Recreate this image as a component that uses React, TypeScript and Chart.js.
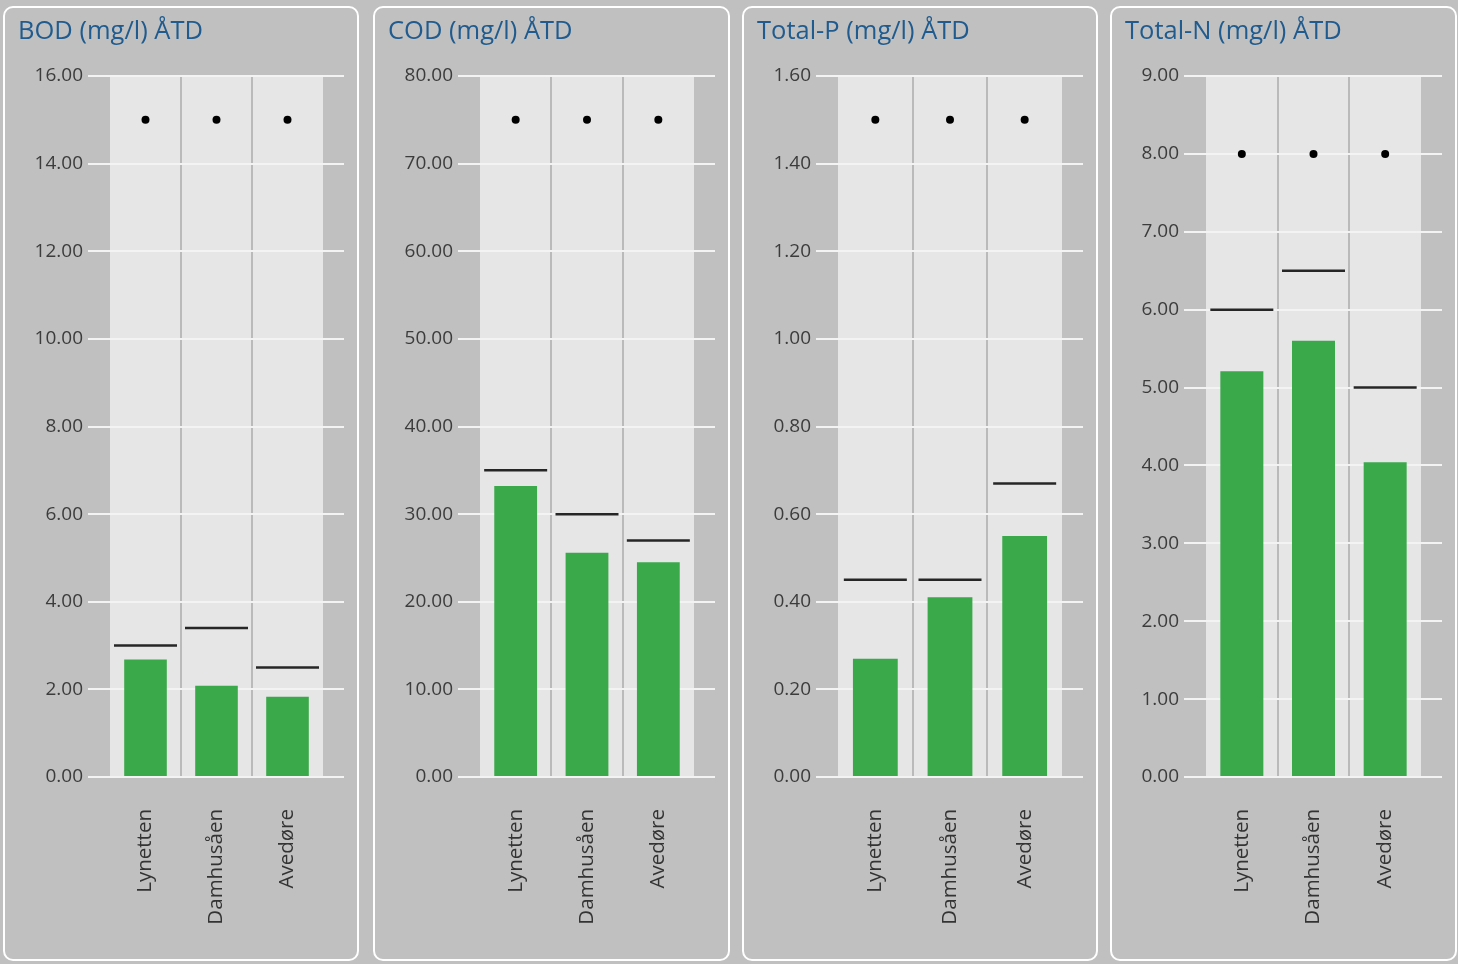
import React, { useEffect, useRef } from 'react';
import { Chart, registerables } from 'chart.js';
Chart.register(...registerables);

const categories = ['Lynetten', 'Damhusåen', 'Avedøre'];
const titles = ['BOD (mg/l) ÅTD', 'COD (mg/l) ÅTD', 'Total-P (mg/l) ÅTD', 'Total-N (mg/l) ÅTD'];

const bodValues = [2.68, 2.08, 1.83];
const bodTargets = [3.0, 3.4, 2.5];
const bodLimits = [15, 15, 15];

const codValues = [33.2, 25.6, 24.5];
const codTargets = [35, 30, 27];
const codLimits = [75, 75, 75];

const totalPValues = [0.27, 0.41, 0.55];
const totalPTargets = [0.45, 0.45, 0.67];
const totalPLimits = [1.5, 1.5, 1.5];

const totalNValues = [5.21, 5.6, 4.04];
const totalNTargets = [6.0, 6.5, 5.0];
const totalNLimits = [8, 8, 8];

const axisMax = [16, 80, 1.6, 9];
const axisStep = [2, 10, 0.2, 1];

// layout (px) for each panel: outer left, outer width, plot left / right inside canvas
const panelLeft = [3, 373, 742, 1110];
const panelWidth = [356, 357, 356, 347];
const plotLeft = [105, 105, 94, 94];
const plotRight = [320, 320, 319, 311];

const panels = [
  { title: titles[0], values: bodValues, targets: bodTargets, limits: bodLimits, max: axisMax[0], step: axisStep[0] },
  { title: titles[1], values: codValues, targets: codTargets, limits: codLimits, max: axisMax[1], step: axisStep[1] },
  { title: titles[2], values: totalPValues, targets: totalPTargets, limits: totalPLimits, max: axisMax[2], step: axisStep[2] },
  { title: titles[3], values: totalNValues, targets: totalNTargets, limits: totalNLimits, max: axisMax[3], step: axisStep[3] },
];

const FONT = "'Open Sans', 'Noto Sans', sans-serif";
const PAGE_BG = '#c0c0c0';
const COLUMN_BG = '#e6e6e6';
const GRID = '#f3f3f3';

const columnBg = {
  id: 'columnBg',
  beforeDraw(chart: any) {
    const { ctx, chartArea: a } = chart;
    ctx.save();
    ctx.fillStyle = COLUMN_BG;
    ctx.fillRect(a.left, a.top, a.right - a.left, a.bottom - a.top);
    ctx.restore();
  },
};

const CANVAS_H = 951;

function Panel({ p, idx }: { p: typeof panels[number]; idx: number }) {
  const ref = useRef<HTMLCanvasElement>(null);
  const cw = panelWidth[idx] - 4;
  useEffect(() => {
    if (!ref.current) return;
    const yWidth = plotLeft[idx];
    const rightPad = cw - plotRight[idx] - 21;
    const chart = new Chart(ref.current, {
      type: 'bar',
      data: {
        labels: categories,
        datasets: [
          {
            type: 'line',
            data: p.limits,
            showLine: false,
            pointStyle: 'circle',
            pointRadius: 4,
            pointBackgroundColor: '#000',
            pointBorderColor: '#000',
            pointBorderWidth: 0,
            order: 1,
          } as any,
          {
            type: 'line',
            data: p.targets,
            showLine: false,
            pointStyle: 'line',
            pointRadius: 31.5,
            pointBorderWidth: 2.5,
            pointBorderColor: '#262626',
            borderColor: '#262626',
            order: 2,
          } as any,
          {
            type: 'bar',
            data: p.values,
            backgroundColor: '#3aa94a',
            barPercentage: 0.6,
            categoryPercentage: 1,
            order: 3,
          } as any,
        ],
      },
      options: {
        responsive: false,
        animation: false,
        layout: { padding: { left: 0, right: rightPad, top: 68, bottom: 0 } },
        plugins: {
          legend: { display: false },
          tooltip: { enabled: false },
          title: { display: false },
        },
        scales: {
          x: {
            offset: true,
            grid: {
              offset: true,
              color: (ctx: any) => (ctx.index === 1 || ctx.index === 2 ? '#bababa' : 'rgba(0,0,0,0)'),
              lineWidth: 2,
              drawTicks: false,
            },
            border: { display: false },
            ticks: {
              minRotation: 90,
              maxRotation: 90,
              padding: 32,
              color: '#333333',
              font: { family: FONT, size: 20.5 },
            },
            afterFit: (s: any) => {
              s.height = 182;
            },
          },
          y: {
            min: 0,
            max: p.max,
            ticks: {
              stepSize: p.step,
              padding: 5,
              color: '#3c3c3c',
              font: { family: FONT, size: 19 },
              callback: (v: any) => Number(v).toFixed(2),
            },
            grid: { color: GRID, lineWidth: 2, tickLength: 22, tickColor: GRID },
            border: { display: false },
            afterFit: (s: any) => {
              s.width = yWidth;
            },
          },
          y2: {
            position: 'right',
            min: 0,
            max: p.max,
            ticks: { stepSize: p.step, display: false },
            grid: { drawOnChartArea: false, color: GRID, lineWidth: 2, tickLength: 21, tickColor: GRID },
            border: { display: false },
            afterFit: (s: any) => {
              s.width = 21;
            },
          },
        } as any,
      },
      plugins: [columnBg],
    });
    return () => chart.destroy();
  }, [p, idx, cw]);

  return (
    <div style={{ position: 'relative', width: cw, height: CANVAS_H }}>
      <canvas ref={ref} width={cw} height={CANVAS_H} style={{ display: 'block' }} />
      <div
        style={{
          position: 'absolute',
          left: 13,
          top: 9,
          fontFamily: FONT,
          fontSize: 25.5,
          lineHeight: '24px',
          color: '#1f5b8e',
          whiteSpace: 'nowrap',
        }}
      >
        {p.title}
      </div>
    </div>
  );
}

export default function App() {
  return (
    <div style={{ position: 'fixed', left: 0, top: 0, width: 1458, height: 964, background: PAGE_BG, overflow: 'hidden' }}>
      {panels.map((p, i) => (
        <div
          key={i}
          style={{
            position: 'absolute',
            left: panelLeft[i],
            top: 6,
            width: panelWidth[i],
            height: CANVAS_H + 4,
            boxSizing: 'border-box',
            border: '2px solid #ffffff',
            borderRadius: 10,
            background: PAGE_BG,
            overflow: 'hidden',
          }}
        >
          <Panel p={p} idx={i} />
        </div>
      ))}
    </div>
  );
}
